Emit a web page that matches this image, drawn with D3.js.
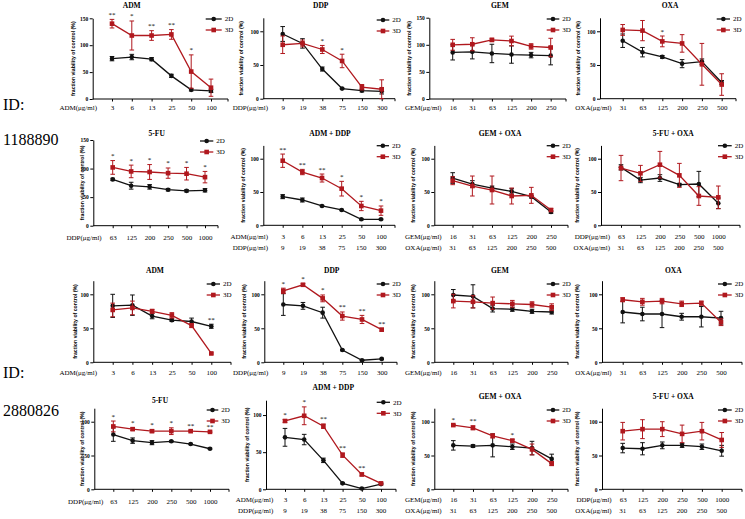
<!DOCTYPE html>
<html><head><meta charset="utf-8">
<script src="https://cdn.jsdelivr.net/npm/d3@7"></script>
<style>body{margin:0;background:#fff}</style>
</head><body>
<script>
// ---------- categories / tick labels ----------
const cats_ADM = ["3","6","13","25","50","100"];
const cats_DDP = ["9","19","38","75","150","300"];
const cats_GEM = ["16","31","63","125","200","250"];
const cats_OXA = ["31","63","125","200","250","500"];
const cats_FU  = ["63","125","200","250","500","1000"];
const yticks150 = [0,50,100,150];
const yticks120 = [0,50,100];
const seriesNames = ["2D","3D"];
const idLabels = ["1188890","2880826"];

// ---------- ID 1188890 ----------
const p1_2d=[75,78,74,43,17,15], p1_2d_sd=[4,5,3,3,2,3];
const p1_3d=[140,118,118,120,51,21], p1_3d_sd=[8,27,9,9,31,16];
const p1_sig=["**","*","**","**","*",""];
const p2_2d=[96,82,44,15,12,11], p2_2d_sd=[11,7,3,1,2,4];
const p2_3d=[80,82,73,56,17,14], p2_3d_sd=[13,5,6,10,4,14];
const p2_sig=["","","*","*","",""];
const p3_2d=[86,87,84,82,81,80], p3_2d_sd=[14,13,17,16,5,17];
const p3_3d=[100,101,109,107,97,95], p3_3d_sd=[10,12,3,9,5,17];
const p3_sig=["","","","","",""];
const p4_2d=[86,69,62,52,55,24], p4_2d_sd=[10,7,2,6,4,3];
const p4_3d=[102,101,85,82,51,21], p4_3d_sd=[8,15,8,13,31,16];
const p4_sig=["","","*","","",""];
const p5_2d=[81,70,68,63,61,62], p5_2d_sd=[2,6,4,2,2,3];
const p5_3d=[102,95,94,92,91,85], p5_3d_sd=[12,11,13,9,11,10];
const p5_sig=["*","*","*","*","*","*"];
const p6_2d=[43,38,29,23,9,9], p6_2d_sd=[3,3,1,1,1,1];
const p6_3d=[97,80,71,55,29,22], p6_3d_sd=[10,4,6,11,7,7];
const p6_sig=["**","**","**","*","*","*"];
const p7_2d=[71,62,56,51,43,20], p7_2d_sd=[8,5,3,4,2,2];
const p7_3d=[67,59,53,44,45,23], p7_3d_sd=[6,15,21,12,12,2];
const p7_sig=["","","","","",""];
const p8_2d=[87,68,71,61,62,33], p8_2d_sd=[4,4,5,2,19,8];
const p8_3d=[86,78,91,75,44,42], p8_3d_sd=[19,12,20,18,14,17];
const p8_sig=["","","","","",""];
// ---------- ID 2880826 ----------
const p9_2d=[83,84,68,62,60,53], p9_2d_sd=[17,15,4,2,5,3];
const p9_3d=[77,80,75,69,54,13], p9_3d_sd=[10,10,3,4,3,1];
const p9_sig=["","","","","","**"];
const p10_2d=[85,83,73,18,3,5], p10_2d_sd=[16,5,8,1,1,1];
const p10_3d=[105,114,94,68,63,48], p10_3d_sd=[4,2,5,6,6,2];
const p10_sig=["*","*","*","**","**","**"];
const p11_2d=[99,97,79,78,75,74], p11_2d_sd=[8,17,5,3,3,3];
const p11_3d=[90,89,87,86,85,81], p11_3d_sd=[10,9,9,5,4,5];
const p11_sig=["","","","","",""];
const p12_2d=[74,71,71,67,67,65], p12_2d_sd=[16,10,20,5,15,10];
const p12_3d=[92,89,90,86,87,59], p12_3d_sd=[3,5,4,4,3,5];
const p12_sig=["","","","","",""];
const p13_2d=[81,72,69,71,67,60], p13_2d_sd=[10,4,3,1,1,1];
const p13_3d=[93,89,86,86,86,85], p13_3d_sd=[8,2,2,5,1,1];
const p13_sig=["*","*","*","*","**","**"];
const p14_2d=[70,67,39,8,1,7], p14_2d_sd=[12,7,3,1,1,1];
const p14_3d=[92,99,85,46,20,8], p14_3d_sd=[2,12,3,3,2,1];
const p14_sig=["*","*","**","**","**",""];
const p15_2d=[65,64,65,63,61,45], p15_2d_sd=[7,2,17,4,10,7];
const p15_3d=[95,91,79,72,59,38], p15_3d_sd=[1,3,3,2,8,3];
const p15_sig=["*","**","","*","",""];
const p16_2d=[61,60,65,65,63,57], p16_2d_sd=[7,9,5,3,4,8];
const p16_3d=[86,89,89,82,86,73], p16_3d_sd=[13,14,11,13,13,11];
const p16_sig=["","","","","",""];

// ---------- panel content (built from arrays) ----------
const panels = [
 {title:"ADM", cats:cats_ADM, xl:["ADM(μg/ml)"], ymax:150, yt:yticks150, d2:p1_2d,e2:p1_2d_sd,d3:p1_3d,e3:p1_3d_sd,sig:p1_sig},
 {title:"DDP", cats:cats_DDP, xl:["DDP(μg/ml)"], ymax:120, yt:yticks120, d2:p2_2d,e2:p2_2d_sd,d3:p2_3d,e3:p2_3d_sd,sig:p2_sig},
 {title:"GEM", cats:cats_GEM, xl:["GEM(μg/ml)"], ymax:150, yt:yticks150, d2:p3_2d,e2:p3_2d_sd,d3:p3_3d,e3:p3_3d_sd,sig:p3_sig},
 {title:"OXA", cats:cats_OXA, xl:["OXA(μg/ml)"], ymax:120, yt:yticks120, d2:p4_2d,e2:p4_2d_sd,d3:p4_3d,e3:p4_3d_sd,sig:p4_sig},
 {title:"5-FU", cats:cats_FU, xl:["DDP(μg/ml)"], ymax:150, yt:yticks150, d2:p5_2d,e2:p5_2d_sd,d3:p5_3d,e3:p5_3d_sd,sig:p5_sig},
 {title:"ADM + DDP", cats:cats_ADM, cats2:cats_DDP, xl:["ADM(μg/ml)","DDP(μg/ml)"], ymax:120, yt:yticks120, d2:p6_2d,e2:p6_2d_sd,d3:p6_3d,e3:p6_3d_sd,sig:p6_sig},
 {title:"GEM + OXA", cats:cats_GEM, cats2:cats_OXA, xl:["GEM(μg/ml)","OXA(μg/ml)"], ymax:120, yt:yticks120, d2:p7_2d,e2:p7_2d_sd,d3:p7_3d,e3:p7_3d_sd,sig:p7_sig},
 {title:"5-FU + OXA", cats:cats_FU, cats2:cats_OXA, xl:["DDP(μg/ml)","OXA(μg/ml)"], ymax:120, yt:yticks120, d2:p8_2d,e2:p8_2d_sd,d3:p8_3d,e3:p8_3d_sd,sig:p8_sig},
 {title:"ADM", cats:cats_ADM, xl:["ADM(μg/ml)"], ymax:120, yt:yticks120, d2:p9_2d,e2:p9_2d_sd,d3:p9_3d,e3:p9_3d_sd,sig:p9_sig},
 {title:"DDP", cats:cats_DDP, xl:["DDP(μg/ml)"], ymax:120, yt:yticks120, d2:p10_2d,e2:p10_2d_sd,d3:p10_3d,e3:p10_3d_sd,sig:p10_sig},
 {title:"GEM", cats:cats_GEM, xl:["GEM(μg/ml)"], ymax:120, yt:yticks120, d2:p11_2d,e2:p11_2d_sd,d3:p11_3d,e3:p11_3d_sd,sig:p11_sig},
 {title:"OXA", cats:cats_OXA, xl:["OXA(μg/ml)"], ymax:120, yt:yticks120, d2:p12_2d,e2:p12_2d_sd,d3:p12_3d,e3:p12_3d_sd,sig:p12_sig},
 {title:"5-FU", cats:cats_FU, xl:["DDP(μg/ml)"], ymax:120, yt:yticks120, d2:p13_2d,e2:p13_2d_sd,d3:p13_3d,e3:p13_3d_sd,sig:p13_sig},
 {title:"ADM + DDP", cats:cats_ADM, cats2:cats_DDP, xl:["ADM(μg/ml)","DDP(μg/ml)"], ymax:120, yt:yticks120, d2:p14_2d,e2:p14_2d_sd,d3:p14_3d,e3:p14_3d_sd,sig:p14_sig},
 {title:"GEM + OXA", cats:cats_GEM, cats2:cats_OXA, xl:["GEM(μg/ml)","OXA(μg/ml)"], ymax:120, yt:yticks120, d2:p15_2d,e2:p15_2d_sd,d3:p15_3d,e3:p15_3d_sd,sig:p15_sig},
 {title:"5-FU + OXA", cats:cats_FU, cats2:cats_OXA, xl:["DDP(μg/ml)","OXA(μg/ml)"], ymax:120, yt:yticks120, d2:p16_2d,e2:p16_2d_sd,d3:p16_3d,e3:p16_3d_sd,sig:p16_sig}
];

// ---------- layout (positions only) ; xl = right end of axis title ----------
const layout = [
 {ax:92.7,t0:112,t1:211,xe:228,y0:99,yt:18.3,tx:131.7,ty:7.5,lx:205.7,lx2:221.7,ly:19,xl:97,xly:107.7,yl:73.3},
 {ax:263.3,t0:282.7,t1:381.7,xe:395,y0:98.7,yt:17.8,tx:320.7,ty:7.5,lx:376.7,lx2:389.3,ly:20,xl:268,xly:107.7,yl:241},
 {ax:429.3,t0:452.7,t1:550.7,xe:566,y0:99,yt:17.7,tx:500,ty:7.5,lx:546.7,lx2:559.3,ly:19,xl:441.7,xly:107.7,yl:409},
 {ax:600,t0:622.7,t1:721.7,xe:736,y0:98.7,yt:17.8,tx:670,ty:7.5,lx:716.7,lx2:730,ly:19,xl:611.7,xly:107.7,yl:578},
 {ax:93.3,t0:112.7,t1:205,xe:218,y0:225.7,yt:140,tx:156.7,ty:136,lx:200,lx2:213.3,ly:141,xl:101.7,xly:237.3,yl:81.7},
 {ax:263.3,t0:282.7,t1:381,xe:395,y0:225.3,yt:145.4,tx:330,ty:136,lx:376.7,lx2:389,ly:145.7,xl:268,xly:236.7,yl:242.7},
 {ax:434.3,t0:452.7,t1:551,xe:568,y0:225.3,yt:145.4,tx:500,ty:136,lx:546.7,lx2:559.3,ly:145.7,xl:441.7,xly:236.7,yl:413},
 {ax:601,t0:621,t1:718.3,xe:740,y0:225.3,yt:145.4,tx:673.3,ty:136,lx:718,lx2:731.7,ly:145.7,xl:610,xly:236.7,yl:577},
 {ax:93.3,t0:112.7,t1:211.3,xe:231,y0:362.3,yt:280.7,tx:155,ty:272.5,lx:206.7,lx2:220,ly:284,xl:97,xly:372.3,yl:75},
 {ax:264.3,t0:283.3,t1:381.7,xe:397,y0:362.3,yt:280.7,tx:331.7,ty:272.5,lx:376.7,lx2:389.3,ly:284,xl:268.3,xly:372.3,yl:244},
 {ax:434.3,t0:453.3,t1:551.7,xe:568,y0:362.3,yt:280.7,tx:500,ty:272.5,lx:546.7,lx2:559.3,ly:284,xl:441.7,xly:372.3,yl:413},
 {ax:602,t0:622.7,t1:721,xe:742,y0:362.3,yt:280.7,tx:673.3,ty:272.5,lx:718,lx2:731.7,ly:284,xl:611.7,xly:372.3,yl:577},
 {ax:94.3,t0:113.3,t1:210,xe:229,y0:489.3,yt:408.2,tx:160,ty:402.5,lx:206.7,lx2:218.3,ly:410,xl:103.3,xly:501.7,yl:81.7},
 {ax:266,t0:285,t1:381,xe:396,y0:489.3,yt:400.2,tx:333.3,ty:390,lx:376.7,lx2:390,ly:402.3,xl:273.3,xly:500,yl:246.7},
 {ax:434.3,t0:453.3,t1:551.7,xe:568,y0:489.3,yt:408.2,tx:500,ty:399,lx:546.7,lx2:559.3,ly:410,xl:441.7,xly:500,yl:413},
 {ax:602,t0:622.7,t1:721.7,xe:742,y0:489.3,yt:408.2,tx:673.3,ty:399,lx:718,lx2:731.7,ly:410,xl:611.7,xly:500,yl:577}
];

const FONT = "'Liberation Serif','Times New Roman',serif";
const SANS = "'Liberation Sans',Arial,sans-serif";
const BLACK = "#111111", RED = "#b0181e";

const svg = d3.select("body").append("svg").attr("width",745).attr("height",519)
  .style("font-family",FONT);

// ID labels
svg.append("text").attr("x",3).attr("y",110).attr("font-size",16).text("ID:");
svg.append("text").attr("x",3).attr("y",145).attr("font-size",16).text(idLabels[0]);
svg.append("text").attr("x",3).attr("y",378).attr("font-size",16).text("ID:");
svg.append("text").attr("x",3).attr("y",416).attr("font-size",16).text(idLabels[1]);

function marker(g, kind, cx, cy, color){
  if(kind===0) g.append("circle").attr("cx",cx).attr("cy",cy).attr("r",2.3).attr("fill",color);
  else g.append("rect").attr("x",cx-2.3).attr("y",cy-2.3).attr("width",4.6).attr("height",4.6).attr("fill",color);
}

panels.forEach((p,i)=>{
  const L = layout[i];
  const g = svg.append("g");
  const x = d3.scalePoint().domain(p.cats).range([L.t0,L.t1]);
  const y = d3.scaleLinear().domain([0,p.ymax]).range([L.y0,L.yt]);

  g.append("text").attr("x",L.tx).attr("y",L.ty).attr("text-anchor","middle")
   .attr("font-size",7.5).attr("font-weight","bold").text(p.title);

  const ya = g.append("g").attr("transform",`translate(${L.ax},0)`)
    .call(d3.axisLeft(y).tickValues(p.yt).tickSize(3).tickPadding(1.5).tickSizeOuter(0));
  ya.select(".domain").attr("stroke","#000").attr("stroke-width",1);
  ya.selectAll(".tick line").attr("stroke","#000").attr("stroke-width",1);
  ya.selectAll(".tick text").attr("font-size",5.5).attr("font-weight","bold").attr("font-family",FONT).attr("fill","#000");

  const xa = g.append("g").attr("transform",`translate(0,${L.y0})`)
    .call(d3.axisBottom(x).tickSize(2.5).tickSizeOuter(0));
  xa.select(".domain").remove();
  xa.selectAll(".tick line").attr("stroke","#000").attr("stroke-width",1);
  xa.selectAll(".tick text").attr("font-size",7).attr("font-family",FONT).attr("fill","#000")
    .attr("y",L.xly-L.y0).attr("dy","0.35em");
  g.append("line").attr("x1",L.ax).attr("x2",L.xe).attr("y1",L.y0).attr("y2",L.y0)
    .attr("stroke","#000").attr("stroke-width",1);
  g.append("line").attr("x1",L.xe).attr("x2",L.xe).attr("y1",L.y0).attr("y2",L.y0+2.5)
    .attr("stroke","#000").attr("stroke-width",1);

  if(p.cats2){
    g.selectAll(".t2").data(p.cats2).enter().append("text")
     .attr("x",(d,k)=>x(p.cats[k])).attr("y",L.xly+11).attr("dy","0.35em")
     .attr("text-anchor","middle").attr("font-size",7).text(d=>d);
  }
  p.xl.forEach((t,k)=>{
    g.append("text").attr("x",L.xl).attr("y",L.xly+11*k).attr("dy","0.35em")
     .attr("text-anchor","end").attr("font-size",7).text(t);
  });
  g.append("text").attr("transform",`translate(${L.yl},${(L.y0+L.yt)/2}) rotate(-90)`)
   .attr("text-anchor","middle").attr("dy","0.35em").attr("font-size",5.2).attr("font-weight","bold")
   .attr("font-family",SANS).text("fraction viability of control (%)");

  const series = [[p.d2,p.e2,BLACK],[p.d3,p.e3,RED]];
  series.forEach(([vals,errs,col],si)=>{
    const line = d3.line().x((d,k)=>x(p.cats[k])).y(d=>y(d));
    g.append("path").attr("d",line(vals)).attr("fill","none").attr("stroke",col).attr("stroke-width",1.3);
    vals.forEach((v,k)=>{
      const cx = x(p.cats[k]);
      const lo = y(Math.max(0,v-errs[k])), hi = y(v+errs[k]);
      g.append("line").attr("x1",cx).attr("x2",cx).attr("y1",lo).attr("y2",hi).attr("stroke",col).attr("stroke-width",1);
      g.append("line").attr("x1",cx-2.3).attr("x2",cx+2.3).attr("y1",lo).attr("y2",lo).attr("stroke",col).attr("stroke-width",1);
      g.append("line").attr("x1",cx-2.3).attr("x2",cx+2.3).attr("y1",hi).attr("y2",hi).attr("stroke",col).attr("stroke-width",1);
    });
    vals.forEach((v,k)=> marker(g,si,x(p.cats[k]),y(v),col));
  });

  p.sig.forEach((s,k)=>{
    if(!s) return;
    const top = Math.max(p.d2[k]+p.e2[k], p.d3[k]+p.e3[k]);
    g.append("text").attr("x",x(p.cats[k])).attr("y",y(top)-2.5).attr("text-anchor","middle")
     .attr("font-size",7).text(s);
  });

  seriesNames.forEach((nm,si)=>{
    const ly = L.ly + si*11;
    const col = si===0?BLACK:RED;
    g.append("line").attr("x1",L.lx).attr("x2",L.lx2).attr("y1",ly).attr("y2",ly).attr("stroke",col).attr("stroke-width",1.3);
    marker(g,si,(L.lx+L.lx2)/2,ly,col);
    g.append("text").attr("x",L.lx2+3).attr("y",ly).attr("dy","0.35em").attr("font-size",7).text(nm);
  });
});
</script>
</body></html>
